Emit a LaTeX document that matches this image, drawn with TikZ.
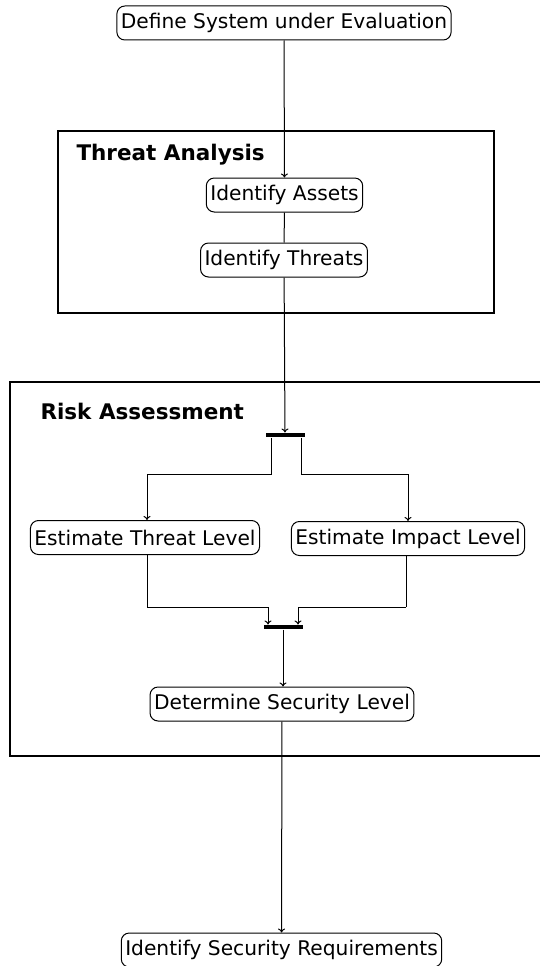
\documentclass[tikz,border=0pt]{standalone}
\usepackage{fontspec}
\setmainfont{DejaVu Sans}
\usetikzlibrary{positioning,arrows.meta}
\begin{document}
\begin{tikzpicture}[x=1pt,y=-1pt,line width=1pt,
    activity/.style={draw,rounded corners=8pt,inner xsep=4pt,inner ysep=0pt,minimum height=34pt,font=\fontsize{20.2}{24}\selectfont},
    syncbar/.style={fill=black,inner sep=0pt,minimum width=39pt,minimum height=4pt},
    frame/.style={line width=2pt},
    title/.style={anchor=west,inner sep=0pt,font=\fontsize{21.5}{25}\selectfont\bfseries},
    flow/.style={-{To[length=4pt,width=7pt]}}]
      \useasboundingbox (0,0) rectangle (540,966);
      \draw[frame] (58,131) rectangle (494,313);
      \draw[frame] (10,382) rectangle (560,756);
      \node[title] (tatitle) at (76,155) {Threat Analysis};
      \node[title] (ratitle) at (40,411) {Risk Assessment};
      \node[activity] (define) at (284,23) {Define System under Evaluation};
      \node[activity] (assets) at (284.5,195) {Identify Assets};
      \node[activity] (threats) at (284,260) {Identify Threats};
      \node[syncbar] (fork) at (285,435) {};
      \node[activity] (tlevel) at (145,537.5) {Estimate Threat Level};
      \node[activity] (ilevel) at (408,538.5) {Estimate Impact Level};
      \node[syncbar] (join) at (283,627) {};
      \node[activity] (seclevel) at (282,704) {Determine Security Level};
      \node[activity] (secreq) at (281.5,950) {Identify Security Requirements};
      \draw[flow] (define) -- (assets);
      \draw (assets) -- (threats);
      \draw[flow] (threats) -- (fork);
      \draw[flow] ([xshift=6pt]fork.south west) -- ++(0,37) -| ([xshift=2pt]tlevel.north);
      \draw[flow] ([xshift=-4pt]fork.south east) -- ++(0,37) -| (ilevel.north);
      \draw (tlevel.south) ++(2,0) coordinate (tl) -- ++(0,52) coordinate (tlb);
      \draw[flow] (tlb) -| ([xshift=5pt]join.north west);
      \draw (ilevel.south) ++(-2,0) coordinate (il) -- ++(0,51) coordinate (ilb);
      \draw[flow] (ilb) -| ([xshift=-5pt]join.north east);
      \draw[flow] (join) -- (join |- seclevel.north);
      \draw[flow] (seclevel) -- (secreq);
    \end{tikzpicture}
\end{document}
